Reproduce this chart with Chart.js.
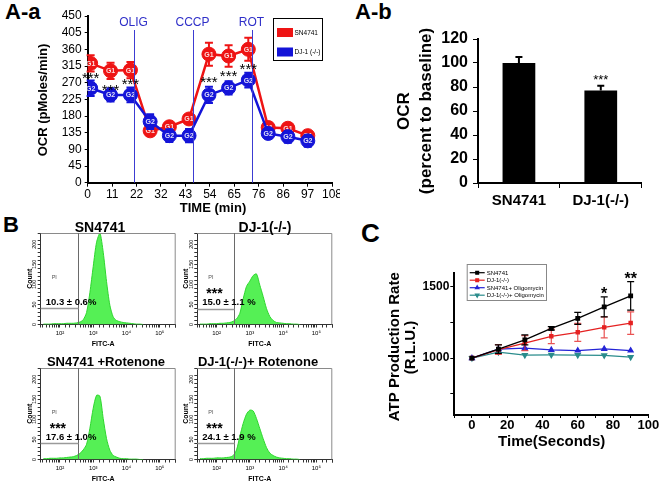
<!DOCTYPE html>
<html>
<head>
<meta charset="utf-8">
<script src="https://cdn.jsdelivr.net/npm/chart.js@4.4.0/dist/chart.umd.min.js"></script>
<style>
  body { margin: 0; background: #fff; width: 660px; height: 485px; overflow: hidden; position: relative;
         font-family: "Liberation Sans", Arial, sans-serif; }
  canvas { position: absolute; }
  .lbl { position: absolute; font-weight: bold; white-space: nowrap; color: #000; line-height: 1; }
</style>
</head>
<body>
<div class="lbl" style="left:5px;top:1px;font-size:22px">A-a</div>
<div class="lbl" style="left:355px;top:1px;font-size:22px">A-b</div>
<div class="lbl" style="left:3px;top:214px;font-size:22px">B</div>
<div class="lbl" style="left:361px;top:220px;font-size:26px">C</div>

<canvas id="ocrChart" width="340" height="215" style="left:0;top:0"></canvas>
<canvas id="baseChart" width="320" height="215" style="left:340px;top:0"></canvas>
<canvas id="hist0" width="180" height="135" style="left:0;top:215px"></canvas>
<canvas id="hist1" width="180" height="135" style="left:160px;top:215px"></canvas>
<canvas id="hist2" width="180" height="140" style="left:0;top:345px"></canvas>
<canvas id="hist3" width="180" height="140" style="left:160px;top:345px"></canvas>
<canvas id="atpChart" width="330" height="255" style="left:330px;top:230px"></canvas>

<script>
// ---- A-a : OCR time course ----
const ocrTime = [1.3, 10.1, 18.9, 27.6, 36.1, 44.8, 53.6, 62.3, 71.0, 79.8, 88.5, 97.3];
const ocrSN4741 = [322, 302, 304, 140, 151, 172, 347, 342, 360, 149, 147, 127];
const ocrSN4741Err = [22, 22, 22, 13, 12, 11, 31, 29, 31, 13, 13, 9];
const ocrDJ1 = [255, 237, 237, 165, 127, 127, 237, 256, 277, 133, 124, 113];
const ocrDJ1Err = [21, 18, 20, 20, 17, 18, 22, 18, 20, 13, 16, 16];
const ocrTicksX = [0, 10.8, 21.6, 32.4, 43.2, 54, 64.8, 75.6, 86.4, 97.2, 108];
const ocrTicksY = [0, 45, 90, 135, 180, 225, 270, 315, 360, 405, 450];
const injectNames = ['OLIG', 'CCCP', 'ROT'];
const injectTimes = [20.3, 46.5, 72.6];
const ocrStarIdx = [0, 1, 2, 6, 7, 8];
const ocrStarY = [291, 258, 275, 280, 296, 315];

// ---- A-b : OCR percent to baseline ----
const baseCats = ['SN4741', 'DJ-1(-/-)'];
const baseVals = [100, 77];
const baseErr = [5, 4];

// ---- B : flow cytometry ----
const histTitles = ['SN4741', 'DJ-1(-/-)', 'SN4741 +Rotenone', 'DJ-1(-/-)+ Rotenone'];
const histPct = ['10.3 ± 0.6%', '15.0 ± 1.1 %', '17.6 ± 1.0%', '24.1 ± 1.9 %'];
const histStars = ['', '***', '***', '***'];
const fitcExp = [1.5, 1.6, 1.7, 1.8, 1.9, 2.0, 2.1, 2.2, 2.3, 2.4, 2.5, 2.6, 2.7, 2.8, 2.9, 3.0,
                 3.1, 3.2, 3.3, 3.4, 3.5, 3.6, 3.7, 3.8, 3.9, 4.0, 4.1, 4.2, 4.3, 4.4, 4.5];
const histSN4741 = [1, 1, 1, 2, 2, 2, 2, 3, 3, 3, 4, 6, 12, 30, 80, 145, 205, 228, 180, 107, 48, 19, 10, 7, 5, 4, 3, 2, 1, 1, 0];
const histDJ1 = [1, 1, 1, 2, 2, 2, 3, 3, 4, 5, 8, 14, 28, 64, 95, 108, 122, 126, 98, 70, 40, 20, 10, 5, 4, 3, 2, 2, 1, 1, 0];
const histSNRot = [2, 2, 3, 3, 3, 4, 4, 5, 6, 7, 10, 15, 24, 38, 78, 128, 160, 158, 102, 52, 23, 10, 6, 3, 2, 2, 1, 1, 1, 0, 0];
const histDJRot = [2, 2, 3, 3, 3, 4, 4, 4, 5, 6, 10, 24, 58, 90, 113, 123, 121, 102, 77, 52, 30, 16, 10, 6, 4, 3, 2, 2, 1, 1, 0];
const histCounts = [histSN4741, histDJ1, histSNRot, histDJRot];
const gateExp = [2.55, 2.52, 2.55, 2.52];
const gateCount = [40, 39, 40, 40];
const countTicks = [0, 50, 100, 150, 200];

// ---- C : ATP production ----
const atpTime = [0, 15, 30, 45, 60, 75, 90];
const atpSN4741 = [1000, 1063, 1128, 1209, 1279, 1360, 1437];
const atpSN4741Err = [0, 30, 35, 12, 42, 70, 100];
const atpDJ1 = [1000, 1060, 1105, 1153, 1181, 1216, 1246];
const atpDJ1Err = [0, 35, 53, 51, 63, 74, 79];
const atpSNOligo = [1000, 1063, 1070, 1058, 1053, 1065, 1053];
const atpDJOligo = [1000, 1042, 1021, 1023, 1021, 1019, 1007];

const FONT = '"Liberation Sans", Arial, sans-serif';
Chart.defaults.font.family = FONT;
Chart.defaults.color = '#000';

function fixSize(w, h) {
  return function (s) {
    if (w !== null) s.width = w;
    if (h !== null) s.height = h;
    s.paddingLeft = 0; s.paddingRight = 0; s.paddingTop = 0; s.paddingBottom = 0;
  };
}

// vertical error bars, drawn under each dataset
const errorBarPlugin = {
  id: 'errorBars',
  beforeDatasetDraw(chart, args) {
    const ds = chart.data.datasets[args.index];
    if (!ds.errors) return;
    const meta = args.meta, ys = chart.scales[meta.yAxisID], ctx = chart.ctx;
    ctx.save();
    ctx.strokeStyle = ds.errorColor || ds.borderColor;
    ctx.lineWidth = ds.errorWidth || 1.5;
    meta.data.forEach((el, i) => {
      const e = ds.errors[i];
      if (!e) return;
      const d = ds.data[i];
      const v = typeof d === 'object' ? d.y : d;
      const top = ys.getPixelForValue(v + e);
      const bot = ys.getPixelForValue(ds.errorUpOnly ? v : v - e);
      const c = ds.errorCap || 4;
      ctx.beginPath();
      ctx.moveTo(el.x, top); ctx.lineTo(el.x, bot);
      ctx.moveTo(el.x - c, top); ctx.lineTo(el.x + c, top);
      if (!ds.errorUpOnly) { ctx.moveTo(el.x - c, bot); ctx.lineTo(el.x + c, bot); }
      ctx.stroke();
    });
    ctx.restore();
  }
};

// G1 / G2 labels inside the markers
const pointTextPlugin = {
  id: 'pointText',
  afterDatasetDraw(chart, args) {
    const ds = chart.data.datasets[args.index];
    if (!ds.pointText) return;
    const ctx = chart.ctx;
    ctx.save();
    ctx.font = 'bold 7px ' + FONT;
    ctx.fillStyle = 'rgba(255,255,255,0.85)';
    ctx.textAlign = 'center';
    ctx.textBaseline = 'middle';
    args.meta.data.forEach(el => ctx.fillText(ds.pointText, el.x, el.y + 0.5));
    ctx.restore();
  }
};

// free text; xv / yv are data values on the x / y scales
const textPlugin = {
  id: 'textItems',
  afterDraw(chart, args, opts) {
    const ctx = chart.ctx;
    (opts.items || []).forEach(it => {
      let x = it.x, y = it.y;
      if (it.xv !== undefined) x = chart.scales.x.getPixelForValue(it.xv);
      if (it.yv !== undefined) y = chart.scales.y.getPixelForValue(it.yv);
      ctx.save();
      ctx.font = it.font;
      ctx.fillStyle = it.color || '#000';
      ctx.textAlign = it.align || 'center';
      ctx.textBaseline = it.baseline || 'middle';
      ctx.translate(x + (it.dx || 0), y + (it.dy || 0));
      if (it.rot) ctx.rotate(it.rot * Math.PI / 180);
      ctx.fillText(it.text, 0, 0);
      ctx.restore();
    });
  }
};

const ocrDecorPlugin = {
  id: 'ocrDecor',
  afterDatasetsDraw(chart) {
    const { ctx, chartArea, scales } = chart;
    ctx.save();
    ctx.strokeStyle = '#3c3cd2';
    ctx.lineWidth = 1;
    ctx.fillStyle = '#2f2fc8';
    ctx.font = '12px ' + FONT;
    ctx.textAlign = 'center';
    ctx.textBaseline = 'middle';
    injectTimes.forEach((t, i) => {
      const x = Math.round(scales.x.getPixelForValue(t)) + 0.5;
      ctx.beginPath(); ctx.moveTo(x, 30); ctx.lineTo(x, chartArea.bottom); ctx.stroke();
      ctx.fillText(injectNames[i], x - 1, 23);
    });
    // legend box
    ctx.strokeStyle = '#000';
    ctx.strokeRect(273.5, 18.5, 49, 42);
    const ds = chart.data.datasets;
    [0, 1].forEach(i => {
      const y = 28 + i * 19.5;
      ctx.fillStyle = ds[i].borderColor;
      ctx.fillRect(277, y, 16, 9);
      ctx.fillStyle = '#000';
      ctx.font = '6.5px ' + FONT;
      ctx.textAlign = 'left';
      ctx.fillText(ds[i].label, 294.5, y + 4.8);
    });
    ctx.restore();
  }
};

// ---------- A-a ----------
new Chart(document.getElementById('ocrChart'), {
  type: 'line',
  data: {
    datasets: [
      { label: 'SN4741', data: ocrTime.map((t, i) => ({ x: t, y: ocrSN4741[i] })), errors: ocrSN4741Err,
        pointText: 'G1', borderColor: '#ee1414', backgroundColor: '#ee1414', pointBackgroundColor: '#ee1414',
        pointRadius: 7, pointBorderWidth: 1, borderWidth: 2.5, errorWidth: 2, errorCap: 4, order: 1 },
      { label: 'DJ-1 (-/-)', data: ocrTime.map((t, i) => ({ x: t, y: ocrDJ1[i] })), errors: ocrDJ1Err,
        pointText: 'G2', borderColor: '#1414d8', backgroundColor: '#1414d8', pointBackgroundColor: '#1414d8',
        pointRadius: 7, pointBorderWidth: 1, borderWidth: 2.5, errorWidth: 2, errorCap: 4, order: 0 }
    ]
  },
  options: {
    responsive: false, animation: false,
    layout: { padding: { top: 16, right: 4.3, left: 0, bottom: 0 } },
    plugins: {
      legend: { display: false }, tooltip: { enabled: false },
      textItems: {
        items: [
          { text: 'OCR (pMoles/min)', x: 43, y: 100, rot: -90, font: 'bold 13px ' + FONT },
          { text: 'TIME (min)', x: 213, y: 208, font: 'bold 13px ' + FONT }
        ].concat(ocrStarIdx.map((k, i) => ({
          text: '***', xv: ocrTime[k], yv: ocrStarY[i], dy: 8, baseline: 'alphabetic', font: '15px ' + FONT
        })))
      }
    },
    scales: {
      x: {
        type: 'linear', min: 0, max: 108,
        afterBuildTicks: s => { s.ticks = ocrTicksX.map(v => ({ value: v })); },
        afterFit: fixSize(null, 32.3),
        ticks: { callback: v => Math.round(v), font: { size: 12 }, padding: 1, maxRotation: 0, autoSkip: false },
        grid: { drawOnChartArea: false, tickLength: 4, color: '#000' },
        border: { color: '#000', width: 2 }
      },
      y: {
        min: 0, max: 450,
        afterBuildTicks: s => { s.ticks = ocrTicksY.map(v => ({ value: v })); },
        afterFit: fixSize(87.7, null),
        ticks: { font: { size: 12 }, padding: 3, autoSkip: false },
        grid: { drawOnChartArea: false, tickLength: 3, color: '#000' },
        border: { color: '#000', width: 2 }
      }
    }
  },
  plugins: [errorBarPlugin, pointTextPlugin, ocrDecorPlugin, textPlugin]
});

// ---------- A-b ----------
new Chart(document.getElementById('baseChart'), {
  type: 'bar',
  data: {
    labels: baseCats,
    datasets: [{ data: baseVals, errors: baseErr, errorUpOnly: true, errorColor: '#000', errorWidth: 2, errorCap: 3.5,
                 backgroundColor: '#000', borderColor: '#000', barPercentage: 0.4, categoryPercentage: 1 }]
  },
  options: {
    responsive: false, animation: false,
    layout: { padding: { top: 39, right: 18.3, left: 0, bottom: 0 } },
    plugins: {
      legend: { display: false }, tooltip: { enabled: false },
      textItems: {
        items: [
          { text: 'OCR', x: 64, y: 111, rot: -90, font: 'bold 17px ' + FONT },
          { text: '(percent to baseline)', x: 86, y: 111, rot: -90, font: 'bold 17px ' + FONT },
          { text: '***', xv: 1, yv: 88, dy: 7, baseline: 'alphabetic', font: '13px ' + FONT }
        ]
      }
    },
    scales: {
      x: {
        afterFit: fixSize(null, 32),
        ticks: { font: { size: 15, weight: 'bold' }, padding: 4 },
        grid: { offset: true, drawOnChartArea: false, tickLength: 5, color: '#000' },
        border: { color: '#000', width: 2 }
      },
      y: {
        min: 0, max: 120,
        afterFit: fixSize(138, null),
        ticks: { stepSize: 20, autoSkip: false, font: { size: 16, weight: 'bold' }, padding: 5 },
        grid: { drawOnChartArea: false, tickLength: 5, color: '#000' },
        border: { color: '#000', width: 2 }
      }
    }
  },
  plugins: [errorBarPlugin, textPlugin]
});

// ---------- B ----------
const supDigits = { 2: '²', 3: '³', 4: '⁴', 5: '⁵' };

function histDecor(idx) {
  return {
    id: 'histDecor',
    afterDraw(chart) {
      const { ctx, chartArea: a, scales } = chart;
      ctx.save();
      ctx.strokeStyle = '#8a8a8a';
      ctx.lineWidth = 1;
      ctx.beginPath();
      ctx.moveTo(a.left, a.top + 0.5); ctx.lineTo(a.right - 0.5, a.top + 0.5); ctx.lineTo(a.right - 0.5, a.bottom);
      ctx.stroke();
      const gx = Math.round(scales.x.getPixelForValue(Math.pow(10, gateExp[idx]))) + 0.5;
      const gy = Math.round(scales.y.getPixelForValue(gateCount[idx])) + 0.5;
      ctx.strokeStyle = '#6a6a6a';
      ctx.beginPath(); ctx.moveTo(gx, a.top); ctx.lineTo(gx, a.bottom); ctx.stroke();
      ctx.strokeStyle = '#9a9a9a';
      ctx.lineWidth = 1.5;
      ctx.beginPath(); ctx.moveTo(a.left, gy); ctx.lineTo(gx, gy); ctx.stroke();

      ctx.fillStyle = '#000';
      ctx.textAlign = 'center';
      ctx.textBaseline = 'middle';
      // rotated count labels
      ctx.font = '5.5px ' + FONT;
      countTicks.forEach(v => {
        ctx.save();
        ctx.translate(a.left - 6, scales.y.getPixelForValue(v));
        ctx.rotate(-Math.PI / 2);
        ctx.fillText(String(v), 0, 0);
        ctx.restore();
      });
      ctx.font = 'bold 7px ' + FONT;
      ctx.save();
      ctx.translate(a.left - 11, (a.top + a.bottom) / 2);
      ctx.rotate(-Math.PI / 2);
      ctx.fillText('Count', 0, 0);
      ctx.restore();
      ctx.fillText('FITC-A', (a.left + a.right) / 2 - 5, a.bottom + 20);
      ctx.fillStyle = '#555';
      ctx.font = '5.5px ' + FONT;
      ctx.textAlign = 'left';
      ctx.fillText('PI', a.left + 11, a.top + 44);
      ctx.fillStyle = '#000';
      ctx.font = 'bold 9.5px ' + FONT;
      ctx.fillText(histPct[idx], a.left + 5, a.top + 69);
      if (histStars[idx]) {
        ctx.font = 'bold 14px ' + FONT;
        ctx.textBaseline = 'alphabetic';
        ctx.fillText(histStars[idx], a.left + 9, a.top + 65);
      }
      ctx.restore();
    }
  };
}

function chartHeight(idx) { return idx < 2 ? 135 : 140; }

function drawHist(idx, top, left) {
  const counts = histCounts[idx];
  new Chart(document.getElementById('hist' + idx), {
    type: 'line',
    data: {
      datasets: [{
        data: fitcExp.map((e, i) => ({ x: Math.pow(10, e), y: counts[i] })),
        fill: 'origin', tension: 0.25, pointRadius: 0, borderWidth: 1,
        borderColor: '#2fd62f', backgroundColor: '#55f055'
      }]
    },
    options: {
      responsive: false, animation: false,
      layout: { padding: { top: top, right: 180 - left - 135, left: 0, bottom: 0 } },
      plugins: { legend: { display: false }, tooltip: { enabled: false } },
      scales: {
        x: {
          type: 'logarithmic', min: 26.3, max: 302000,
          afterFit: fixSize(null, chartHeight(idx) - top - 91.5),
          ticks: {
            autoSkip: false, maxRotation: 0, padding: 2, font: { size: 6 },
            callback: v => {
              const e = Math.round(Math.log10(v));
              return (Math.abs(Math.log10(v) - e) < 1e-6 && supDigits[e]) ? '10' + supDigits[e] : '';
            }
          },
          grid: { drawOnChartArea: false, tickLength: 3, color: '#333' },
          border: { color: '#333', width: 1 }
        },
        y: {
          min: 0, max: 228,
          afterFit: fixSize(left, null),
          ticks: { stepSize: 10, autoSkip: false, callback: () => '', padding: 0 },
          grid: { drawOnChartArea: false, tickLength: 3, color: '#333' },
          border: { color: '#333', width: 1 }
        }
      }
    },
    plugins: [histDecor(idx)]
  });
}

drawHist(0, 18, 40.7);
drawHist(1, 18, 37.3);
drawHist(2, 23, 40.7);
drawHist(3, 23, 37.3);

const histTitlePos = [[100, 227, 14], [265, 227, 14], [106, 361, 13], [258, 361, 13]];
histTitles.forEach((t, i) => {
  const [cx, cy, fs] = histTitlePos[i];
  const d = document.createElement('div');
  d.className = 'lbl';
  d.style.cssText = `left:${cx - 100}px;top:${cy - 0.49 * fs}px;width:200px;text-align:center;font-size:${fs}px`;
  d.textContent = t;
  document.body.appendChild(d);
});

// ---------- C ----------
const atpLegendPlugin = {
  id: 'atpLegend',
  afterDraw(chart) {
    const ctx = chart.ctx;
    const bx = 136.7, by = 34, bw = 79.3, bh = 36;
    ctx.save();
    ctx.fillStyle = '#fff';
    ctx.fillRect(bx, by, bw, bh);
    ctx.strokeStyle = '#888';
    ctx.lineWidth = 1;
    ctx.strokeRect(bx + 0.5, by + 0.5, bw, bh);
    chart.data.datasets.forEach((ds, i) => {
      const y = by + 8.7 + i * 7.5;
      ctx.strokeStyle = ds.borderColor;
      ctx.fillStyle = ds.borderColor;
      ctx.lineWidth = 1.2;
      ctx.beginPath(); ctx.moveTo(bx + 3, y); ctx.lineTo(bx + 18, y); ctx.stroke();
      Chart.helpers.drawPoint(ctx, { pointStyle: ds.pointStyle, radius: 2, rotation: ds.pointRotation || 0, borderWidth: 1 }, bx + 10.5, y);
      ctx.fillStyle = '#000';
      ctx.font = '6px ' + FONT;
      ctx.textAlign = 'left';
      ctx.textBaseline = 'middle';
      ctx.fillText(ds.label, bx + 20, y + 0.5);
    });
    ctx.restore();
  }
};

function atpSeries(vals) { return atpTime.map((t, i) => ({ x: t, y: vals[i] })); }

new Chart(document.getElementById('atpChart'), {
  type: 'line',
  data: {
    datasets: [
      { label: 'SN4741', data: atpSeries(atpSN4741), errors: atpSN4741Err, errorCap: 3.5, errorWidth: 1.2,
        borderColor: '#000', backgroundColor: '#000', pointStyle: 'rect', pointRadius: 2.5, borderWidth: 1.3 },
      { label: 'DJ-1(-/-)', data: atpSeries(atpDJ1), errors: atpDJ1Err, errorCap: 3.5, errorWidth: 1.2,
        errorColor: 'rgba(228,40,40,0.8)',
        borderColor: '#e52222', backgroundColor: '#e52222', pointStyle: 'rect', pointRadius: 2.2, borderWidth: 1.3 },
      { label: 'SN4741+ Oligomycin', data: atpSeries(atpSNOligo),
        borderColor: '#2424d6', backgroundColor: '#2424d6', pointStyle: 'triangle', pointRadius: 2.8, borderWidth: 1.3 },
      { label: 'DJ-1(-/-)+ Oligomycin', data: atpSeries(atpDJOligo),
        borderColor: '#2a8c8c', backgroundColor: '#2a8c8c', pointStyle: 'triangle', pointRotation: 180,
        pointRadius: 2.8, borderWidth: 1.3 }
    ]
  },
  options: {
    responsive: false, animation: false,
    layout: { padding: { top: 42.7, right: 11.7, left: 0, bottom: 0 } },
    plugins: {
      legend: { display: false }, tooltip: { enabled: false },
      textItems: {
        items: [
          { text: 'ATP Production Rate', x: 65, y: 116.7, rot: -90, font: 'bold 15px ' + FONT },
          { text: '(R.L.U.)', x: 81, y: 117.5, rot: -90, font: 'bold 15px ' + FONT },
          { text: 'Time(Seconds)', x: 221.7, y: 211.7, font: 'bold 15px ' + FONT },
          { text: '*', xv: 75, yv: 1478, dy: 9, baseline: 'alphabetic', font: 'bold 16px ' + FONT },
          { text: '**', xv: 90, yv: 1584, dy: 9, baseline: 'alphabetic', font: 'bold 16px ' + FONT }
        ]
      }
    },
    scales: {
      x: {
        type: 'linear', min: -10, max: 100,
        afterFit: fixSize(null, 70),
        ticks: { stepSize: 10, autoSkip: false, maxRotation: 0, padding: 0, font: { size: 13, weight: 'bold' },
                 callback: v => (v >= 0 && v % 20 === 0) ? v : '' },
        grid: { drawOnChartArea: false, tickLength: 3, color: '#000' },
        border: { color: '#000', width: 2 }
      },
      y: {
        min: 600, max: 1600,
        afterBuildTicks: s => { s.ticks = [750, 1000, 1250, 1500].map(v => ({ value: v })); },
        afterFit: fixSize(124.3, null),
        ticks: { font: { size: 12, weight: 'bold' }, padding: 1, autoSkip: false,
                 callback: v => (v === 1000 || v === 1500) ? v : '' },
        grid: { drawOnChartArea: false, tickLength: 4, color: '#000' },
        border: { color: '#000', width: 2 }
      }
    }
  },
  plugins: [errorBarPlugin, atpLegendPlugin, textPlugin]
});
</script>
</body>
</html>
